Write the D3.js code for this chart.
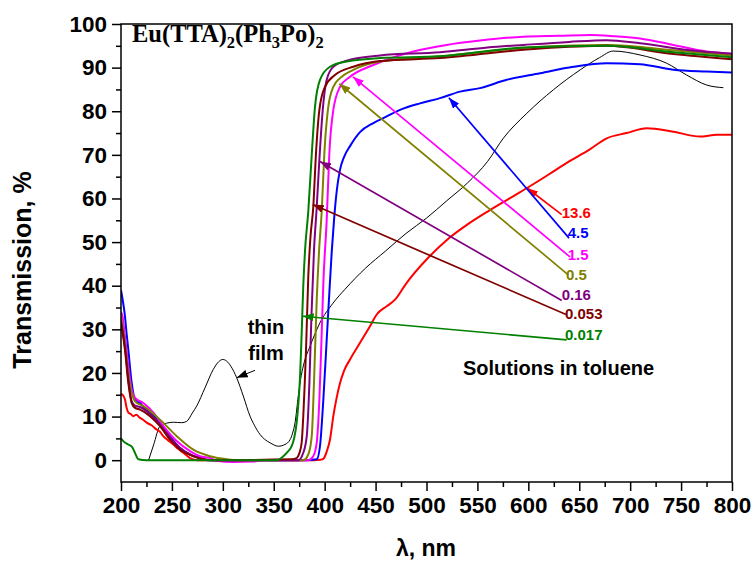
<!DOCTYPE html>
<html><head><meta charset="utf-8">
<script src="https://cdn.jsdelivr.net/npm/d3@7"></script>
<style>body{margin:0;background:#fff}svg{display:block}</style>
</head><body>
<svg id="c" width="754" height="563"></svg>
<script>
// ---------------- DATA (wavelength nm, transmission %) ----------------
const xTicks = [200,250,300,350,400,450,500,550,600,650,700,750,800];
const yTicks = [0,10,20,30,40,50,60,70,80,90,100];

const thinFilm = [[226.8,-0.2],[232,3.5],[238.3,7.8],[245,8.5],[251.4,8.7],[259.6,8.6],[264.5,8.9],[270,10.8],[274.3,12.4],[282.5,16.6],[290.6,20.8],[296,22.6],[300,23.1],[303.8,22.7],[308,21.5],[313.6,18.9],[320.1,14.7],[326.7,10.1],[331,8],[336.5,5.9],[341,4.8],[346.3,4.0],[354.5,3.2],[361,3.6],[366,4.7],[368.5,6.2],[370.9,8.6],[374.1,14.7],[376,18],[380,22.5],[385.6,26.1],[395.4,31.5],[408.2,36.0],[420,39.2],[440,44],[460,48],[480,52],[500,55.5],[520,59.5],[540,63.5],[560,68.5],[575.4,73.8],[598.4,79.5],[624.5,84.9],[651,89.5],[670,92.3],[683.4,93.8],[709.7,92.9],[735.9,91],[755.5,88.3],[775.2,86],[791.5,85.4]];

const c13_6 = [[200,15.2],[201.5,15],[203.9,13.9],[205.5,12],[207.2,10.9],[209.5,10.6],[212.1,10.1],[215,10.4],[218.7,9.7],[222,9.2],[225.2,8.6],[230,8],[235.1,7.0],[238,6.6],[241.5,5.5],[246,4.6],[251.4,3.6],[256,2.6],[261.2,1.7],[267.8,0.5],[275,0],[300,0],[350,0],[390,0],[395.4,0.1],[398.7,0.3],[400.3,0.9],[402.5,2.3],[405.2,4.7],[408.5,10.1],[411.5,14],[415.1,17.7],[419,20.5],[424.9,23.1],[434.7,26.9],[444.5,30.7],[451.1,33.4],[460.9,35.3],[469.1,36.8],[480,40.5],[500,46],[520,50.5],[540,54],[560,57],[580,59.8],[598.7,62.4],[620,65.5],[640,68.5],[660,71.2],[677,73.8],[696.6,75],[716.2,76.1],[742.4,75.3],[768.6,74.2],[785,74.6],[800,74.6]];

const c4_5 = [[200,39],[201.5,37],[203.9,33],[205.5,29],[207.2,25.3],[210.5,17.7],[213.8,13.9],[218.7,13.1],[223,12],[228.5,10.9],[238.3,8.6],[248.1,5.5],[258,2.8],[267.8,1.3],[277.6,0.5],[285,0],[380,0],[392.2,0.2],[395.4,3.2],[398.7,13.9],[402,27.6],[404.5,38],[407,48],[409.5,56],[412,62],[415,66.5],[419,69.5],[424.9,72],[434.7,75.2],[447.8,77.3],[460.9,78.8],[474,80.3],[493.6,81.8],[513.3,83],[532.9,84.5],[552.5,85.3],[578.8,87.2],[611.5,88.7],[644.2,90.2],[677,91],[709.7,90.8],[742.4,89.5],[775.2,89.1],[800,88.9]];

const c1_5 = [[200,34],[201.5,33],[203.9,28.4],[207.2,21.5],[210.5,16.2],[213.8,14.3],[222,13.1],[231.8,10.9],[241.6,7.8],[254.7,4.4],[267.8,2.1],[277.6,0.9],[287.4,0.5],[295,-0.2],[310,-0.4],[330,-0.3],[340,0],[383.9,0],[388.8,0.9],[392.2,4],[394.8,13.9],[397.1,29.2],[398.7,40.6],[402,55.1],[404.6,70.4],[408.5,80.3],[415.1,85.6],[424.9,87.9],[447.8,90.6],[487.1,93.7],[519.8,95.2],[552.5,96.2],[595.1,97.1],[630,97.3],[660.6,97.5],[685,97.2],[709.7,96.7],[742.4,95.2],[775.2,93.7],[800,93.2]];

const c0_5 = [[200,33],[203.9,27],[207.2,20],[210.5,15.5],[213.8,13.5],[222,12.4],[238.3,9.3],[254.7,5.5],[271,2.4],[287.4,0.9],[304,0.2],[315,0],[379,0],[383.9,1.3],[387.3,5.5],[389.5,17.7],[392.2,36.8],[394.5,48],[397.1,57],[399.7,70.4],[403.6,81.1],[408.5,85.6],[415.1,87.6],[428.1,89.5],[454.3,91.4],[513.3,92.6],[611.5,94.8],[677,95.2],[742.4,94],[800,92.8]];

const c0_16 = [[200,32],[203.9,26],[207.2,18.5],[210.5,13.5],[213.8,12.5],[218.7,12.2],[228.5,10.6],[238.3,8.2],[248.1,5.2],[258,2.8],[271,1],[282,0.2],[290,0],[374.1,0],[379,1.7],[382.4,5.5],[385,17.7],[387,33],[389.5,48],[392.2,58],[394.8,68.9],[398.1,80.3],[402,87.2],[408.5,90.2],[421.6,91.6],[454.3,92.8],[513.3,93.5],[560,94.6],[595.1,95.2],[640,95.9],[677,96.3],[709.7,95.6],[758.8,94],[800,93.2]];

const c0_053 = [[200,31.5],[203.9,25.3],[207.2,17.7],[210.5,13.1],[213.8,12],[218.7,11.6],[228.5,10.1],[238.3,7.8],[248.1,4.7],[258,2.4],[271,0.9],[280,0.2],[290,0],[367.7,0.2],[372.5,0.5],[375,1.5],[377.4,4],[379,10.1],[380.5,18],[381.7,25.3],[383.9,42],[386,51],[388.8,58],[391.5,70.4],[394.8,80.3],[400.3,85.6],[410.1,88.3],[428.1,90.2],[454.3,91.5],[513.3,92.2],[611.5,94.4],[677,95],[742.4,93.1],[800,91.9]];

const c0_017 = [[200,5],[203,4.2],[207,3.6],[211,3],[214,1.5],[217,0.2],[225,0],[352.9,0],[359.4,0.9],[364,2],[367.6,3.2],[370,5],[372.5,8.6],[374.5,14],[375.8,19],[377.4,29],[379,40],[380.7,48],[383.9,57],[387.3,70],[390.5,81],[395.4,87.2],[405.2,90.2],[421.6,91.4],[454.3,92.2],[513.3,92.6],[595.1,94.6],[677,95],[742.4,93.5],[800,92.4]];

// concentration labels and their arrows (data units)
const concLabels = ["13.6","4.5","1.5","0.5","0.16","0.053","0.017"];
const arrowTips  = [[598.7,62.4],[522,83.1],[427.8,87.9],[414.4,86.3],[395.4,68.5],[388.3,58.6],[378.4,33.0]];
const arrowTails = [[632.8,56.3],[640,50.9],[640.9,46.6],[639.2,42.5],[632.8,36.6],[637,33.4],[637.7,27.6]];
const labelAnchors = [[632.8,56.8],[638.6,52.1],[638.6,47.1],[637,42.5],[632.8,37.9],[636,33.6],[636,28.8]];
const filmArrowTail = [331.6,20.6];
const filmArrowTip  = [313.6,18.9];

// ---------------- STYLE ----------------
const solutionSeries = [c13_6, c4_5, c1_5, c0_5, c0_16, c0_053, c0_017];
const colors = ["#ff0000","#0000ff","#ff00ff","#808000","#800080","#800000","#008000"];
const drawOrder = [0,1,2,3,4,5,6];

const svg = d3.select("#c");
const x = d3.scaleLinear().domain([200,800]).range([121,732]);
const y = d3.scaleLinear().domain([-5,100]).range([482,24]);
const FONT = "'Liberation Sans', Arial, sans-serif";

const line = d3.line().x(d=>x(d[0])).y(d=>y(d[1])).curve(d3.curveMonotoneX);

// markers
const defs = svg.append("defs");
function marker(id,col){
  defs.append("marker").attr("id",id).attr("viewBox","0 0 10 10")
    .attr("refX",10).attr("refY",5).attr("markerWidth",11).attr("markerHeight",8)
    .attr("markerUnits","userSpaceOnUse").attr("orient","auto").attr("preserveAspectRatio","none")
    .append("path").attr("d","M0,0 L10,5 L0,10 Z").attr("fill",col);
}
colors.forEach((c,i)=>marker("m"+i,c));
marker("mk","#000");

// clip
defs.append("clipPath").attr("id","clip").append("rect")
  .attr("x",x(200)).attr("y",y(100)).attr("width",x(800)-x(200)).attr("height",y(-5)-y(100));

const g = svg.append("g").attr("clip-path","url(#clip)");
g.append("path").datum(thinFilm).attr("d",line).attr("fill","none").attr("stroke","#000").attr("stroke-width",1);
drawOrder.forEach(i=>{
  g.append("path").datum(solutionSeries[i]).attr("d",line).attr("fill","none")
   .attr("stroke",colors[i]).attr("stroke-width",2).attr("stroke-linejoin","round");
});

// frame
svg.append("rect").attr("x",x(200)).attr("y",y(100)).attr("width",x(800)-x(200)).attr("height",y(-5)-y(100))
  .attr("fill","none").attr("stroke","#000").attr("stroke-width",1.5);

// axes
const xAxis = d3.axisBottom(x).tickValues(xTicks).tickSize(9).tickPadding(6).tickFormat(d3.format("d"));
svg.append("g").attr("transform",`translate(0,${y(-5)})`).call(xAxis);
const xMinor = d3.axisBottom(x).tickValues(d3.range(225,800,50)).tickSize(5).tickFormat("");
svg.append("g").attr("transform",`translate(0,${y(-5)})`).call(xMinor);
const yAxis = d3.axisLeft(y).tickValues(yTicks).tickSize(9).tickPadding(5).tickFormat(d3.format("d"));
svg.append("g").attr("transform",`translate(${x(200)},0)`).call(yAxis);
const yMinor = d3.axisLeft(y).tickValues(d3.range(5,100,10)).tickSize(5).tickFormat("");
svg.append("g").attr("transform",`translate(${x(200)},0)`).call(yMinor);
svg.selectAll(".domain").remove();
svg.selectAll(".tick line").attr("stroke","#000").attr("stroke-width",1.5);
svg.selectAll(".tick text").attr("font-family",FONT).attr("font-weight","bold").attr("font-size",22.5).attr("fill","#000");

// axis titles
svg.append("text").attr("transform","translate(31,270) rotate(-90)").attr("text-anchor","middle")
  .attr("font-family",FONT).attr("font-weight","bold").attr("font-size",25).text("Transmission, %");
svg.append("text").attr("x",426).attr("y",556).attr("text-anchor","middle")
  .attr("font-family",FONT).attr("font-weight","bold").attr("font-size",23).text("λ, nm");

// compound title
const t = svg.append("text").attr("x",132).attr("y",42).attr("font-family","'Liberation Serif','Times New Roman',serif")
  .attr("font-weight","bold").attr("font-size",24.5);
t.append("tspan").text("Eu(TTA)");
t.append("tspan").attr("font-size",16.5).attr("dy",6).text("2");
t.append("tspan").attr("dy",-6).text("(Ph");
t.append("tspan").attr("font-size",16.5).attr("dy",6).text("3");
t.append("tspan").attr("dy",-6).text("Po)");
t.append("tspan").attr("font-size",16.5).attr("dy",6).text("2");

// arrows & labels
concLabels.forEach((lab,i)=>{
  svg.append("line").attr("x1",x(arrowTails[i][0])).attr("y1",y(arrowTails[i][1]))
    .attr("x2",x(arrowTips[i][0])).attr("y2",y(arrowTips[i][1]))
    .attr("stroke",colors[i]).attr("stroke-width",1.7).attr("marker-end",`url(#m${i})`);
  svg.append("text").attr("x",x(labelAnchors[i][0])).attr("y",y(labelAnchors[i][1])+5.5)
    .attr("font-family",FONT).attr("font-weight","bold").attr("font-size",15).attr("fill",colors[i]).text(lab);
});
svg.append("line").attr("x1",x(filmArrowTail[0])).attr("y1",y(filmArrowTail[1]))
  .attr("x2",x(filmArrowTip[0])).attr("y2",y(filmArrowTip[1]))
  .attr("stroke","#000").attr("stroke-width",1).attr("marker-end","url(#mk)");

svg.append("text").attr("x",266).attr("y",334).attr("text-anchor","middle").attr("font-family",FONT)
  .attr("font-weight","bold").attr("font-size",20).text("thin");
svg.append("text").attr("x",266).attr("y",360).attr("text-anchor","middle").attr("font-family",FONT)
  .attr("font-weight","bold").attr("font-size",20).text("film");
svg.append("text").attr("x",463).attr("y",375).attr("font-family",FONT)
  .attr("font-weight","bold").attr("font-size",20).text("Solutions in toluene");
</script>
</body></html>
